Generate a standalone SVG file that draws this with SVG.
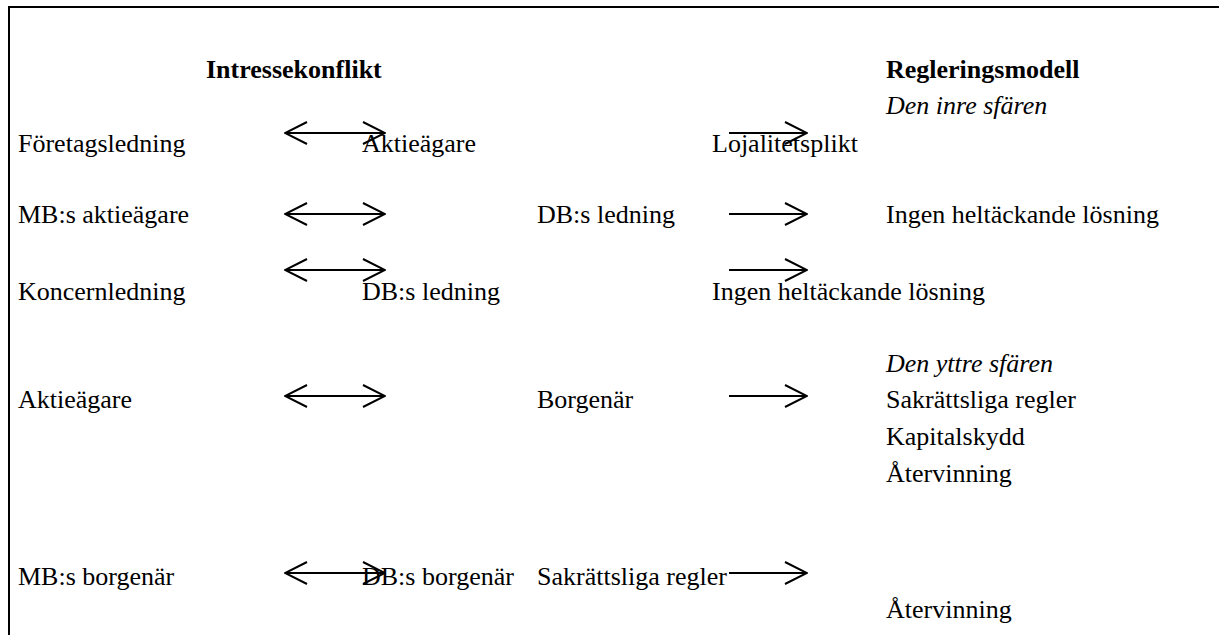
<svg xmlns="http://www.w3.org/2000/svg" width="1219" height="635" viewBox="0 0 1219 635">
<style>
text{font-family:"Liberation Serif","Times New Roman",serif;font-size:26px;fill:#000}
.b{font-weight:bold}
.i{font-style:italic}
.c{stroke:#000;stroke-width:2;fill:none}
</style>
<defs>
<marker id="h" viewBox="0 0 24 24" refX="23" refY="12" markerWidth="24" markerHeight="24" markerUnits="userSpaceOnUse" orient="auto-start-reverse">
<path d="M1,1 L23,12 L1,23" fill="none" stroke="#000" stroke-width="2"/>
</marker>
</defs>
<rect width="1219" height="635" fill="#fff"/>
<path d="M9,635 V7 H1219" class="c"/>
<g id="headers">
<text class="b" x="206" y="78">Intressekonflikt</text>
<text class="b" x="886" y="78">Regleringsmodell</text>
<text class="i" x="886" y="114">Den inre sfären</text>
<text class="i" x="886" y="372">Den yttre sfären</text>
</g>
<g id="col1">
<text x="18" y="152">Företagsledning</text>
<text x="18" y="223">MB:s aktieägare</text>
<text x="18" y="300">Koncernledning</text>
<text x="18" y="408">Aktieägare</text>
<text x="18" y="585">MB:s borgenär</text>
</g>
<g id="col2">
<text x="362" y="152">Aktieägare</text>
<text x="362" y="300">DB:s ledning</text>
<text x="362" y="585">DB:s borgenär</text>
</g>
<g id="col3">
<text x="537" y="223">DB:s ledning</text>
<text x="537" y="408">Borgenär</text>
<text x="537" y="585">Sakrättsliga regler</text>
</g>
<g id="col4">
<text x="712" y="152">Lojalitetsplikt</text>
<text x="712" y="300">Ingen heltäckande lösning</text>
</g>
<g id="col5">
<text x="886" y="223">Ingen heltäckande lösning</text>
<text x="886" y="408">Sakrättsliga regler</text>
<text x="886" y="445">Kapitalskydd</text>
<text x="886" y="482">Återvinning</text>
<text x="886" y="618">Återvinning</text>
</g>
<g id="connectors" class="c">
<line x1="285" y1="133" x2="385" y2="133" marker-start="url(#h)" marker-end="url(#h)"/>
<line x1="285" y1="214" x2="385" y2="214" marker-start="url(#h)" marker-end="url(#h)"/>
<line x1="285" y1="270" x2="385" y2="270" marker-start="url(#h)" marker-end="url(#h)"/>
<line x1="285" y1="396" x2="385" y2="396" marker-start="url(#h)" marker-end="url(#h)"/>
<line x1="285" y1="573" x2="385" y2="573" marker-start="url(#h)" marker-end="url(#h)"/>
<line x1="729" y1="133" x2="807" y2="133" marker-end="url(#h)"/>
<line x1="729" y1="214" x2="807" y2="214" marker-end="url(#h)"/>
<line x1="729" y1="270" x2="807" y2="270" marker-end="url(#h)"/>
<line x1="729" y1="396" x2="807" y2="396" marker-end="url(#h)"/>
<line x1="729" y1="573" x2="807" y2="573" marker-end="url(#h)"/>
</g>
</svg>
